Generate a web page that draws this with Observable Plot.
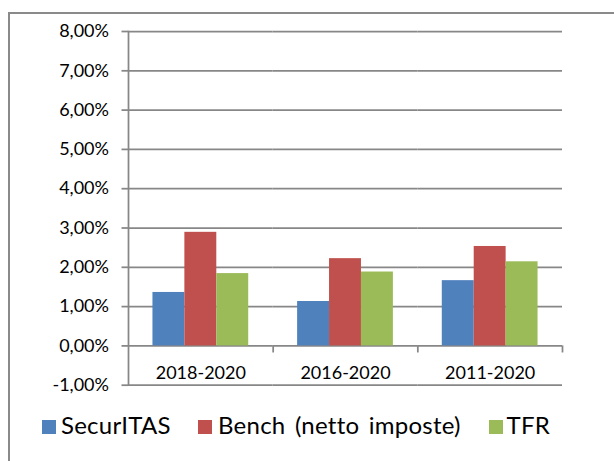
<!DOCTYPE html>
<html><head><meta charset="utf-8">
<script src="https://cdn.jsdelivr.net/npm/d3@7"></script>
<script src="https://cdn.jsdelivr.net/npm/@observablehq/plot@0.6"></script>
<style>
html,body{margin:0;padding:0;background:#fff;overflow:hidden;width:614px;height:461px;}
body{position:relative;font-family:Lato,sans-serif;}
#frame{position:absolute;left:8px;top:12px;width:700px;height:600px;border:2px solid #8a8a8a;box-sizing:border-box;}
#chart{position:absolute;left:0;top:0;}
#legend{position:absolute;left:0;top:395px;width:614px;height:66px;}
.sw{position:absolute;width:14px;height:14px;top:25px;}
.lb{position:absolute;font-size:24px;line-height:24px;color:#000;top:17.7px;white-space:nowrap;letter-spacing:0.25px;word-spacing:3px;}
</style>
</head><body>
<div id="frame"></div>
<div id="chart"></div>
<div id="legend"></div>
<script>
const categories = ["2018-2020", "2016-2020", "2011-2020"];
const seriesNames = ["SecurITAS", "Bench (netto imposte)", "TFR"];
const securitas = [1.36, 1.13, 1.66];
const bench = [2.89, 2.22, 2.53];
const tfr = [1.84, 1.88, 2.14];
const yTicks = [-1, 0, 1, 2, 3, 4, 5, 6, 7, 8];
const colors = ["#4F81BD", "#C0504D", "#9BBB59"];

const seriesValues = [securitas, bench, tfr];
const rows = categories.flatMap((c, i) => seriesNames.map((s, j) => ({period: c, series: s, value: seriesValues[j][i]})));
const catRows = categories.map(c => ({period: c}));

const W = 614, H = 395, mL = 128, mR = 52, mT = 31, mB = H - 384.7;
const fmt = d => d.toFixed(2).replace(".", ",") + "%";
const grid = "#878787";
const facetW = (W - mL - mR) / categories.length;

const chart = Plot.plot({
  width: W, height: H,
  marginLeft: mL, marginRight: mR, marginTop: mT, marginBottom: mB,
  style: {fontFamily: "Lato, sans-serif", fontSize: "18px", color: "#000", background: "transparent", overflow: "visible"},
  fx: {domain: categories, padding: 0, axis: null, round: false},
  x: {domain: seriesNames, paddingInner: 0, paddingOuter: 0.766, axis: null, round: false},
  y: {domain: [-1, 8], axis: null},
  color: {domain: seriesNames, range: colors},
  marks: [
    Plot.ruleY(yTicks, {stroke: grid, strokeWidth: 1.75}),
    Plot.barY(rows, {fx: "period", x: "series", y: "value", fill: "series"}),
    Plot.frame({anchor: "left", stroke: grid, strokeWidth: 1.75, facetAnchor: "left"}),
    Plot.axisY({ticks: yTicks, tickFormat: fmt, label: null, tickSize: 6.5, tickPadding: 13, stroke: grid, strokeWidth: 1.75, strokeOpacity: 1, fill: "#000", fontSize: 18}),
    Plot.ruleX(catRows, {fx: "period", x: null, y1: 0, y2: -0.18, dx: facetW / 2, stroke: grid, strokeWidth: 1.75}),
    Plot.text(catRows, {fx: "period", x: null, y: null, text: "period", frameAnchor: "bottom", lineAnchor: "bottom", dy: -6, fontSize: 18, fill: "#000"})
  ]
});
document.getElementById("chart").appendChild(chart);

const legend = document.getElementById("legend");
const swX = [41.5, 197.6, 489];
const lbX = [61, 218, 506.5];
seriesNames.forEach((s, i) => {
  const sw = document.createElement("div");
  sw.className = "sw"; sw.style.left = swX[i] + "px"; sw.style.background = colors[i];
  legend.appendChild(sw);
  const lb = document.createElement("div");
  lb.className = "lb"; lb.style.left = lbX[i] + "px"; lb.textContent = s;
  legend.appendChild(lb);
});
</script>
</body></html>
